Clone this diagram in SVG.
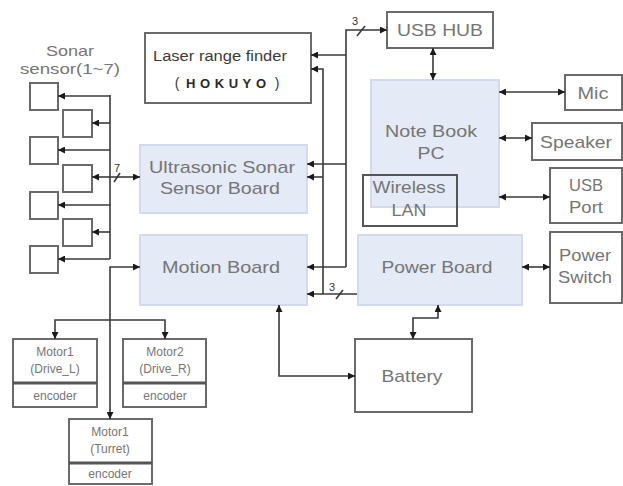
<svg xmlns="http://www.w3.org/2000/svg" width="623" height="486" viewBox="0 0 623 486">
<defs>
<style>
.box{fill:#fff;stroke:#6a6a6a;stroke-width:2}
.blue{fill:#e4eaf6;stroke:#d2dbee;stroke-width:2}
.t{font-family:"Liberation Sans",Arial,sans-serif;fill:#757575;text-anchor:middle}
.b{font-size:17px}
.s{font-size:12px}
.ln{fill:none;stroke:#3a3a3a;stroke-width:1.6}
.lbl{font-family:"Liberation Sans",Arial,sans-serif;font-size:11px;fill:#333}
</style>
<marker id="ar" viewBox="0 0 8 8" refX="8" refY="4" markerWidth="7" markerHeight="7" markerUnits="userSpaceOnUse" orient="auto-start-reverse">
<path d="M0,0 L8,4 L0,8 z" fill="#1a1a1a"/>
</marker>
</defs>
<rect width="623" height="486" fill="#fff"/>

<g id="sonar-label">
<text class="t" x="70" y="56" font-size="15" textLength="48" lengthAdjust="spacingAndGlyphs">Sonar</text>
<text class="t" x="70" y="74" font-size="15" textLength="100" lengthAdjust="spacingAndGlyphs">sensor(1~7)</text>
</g>
<g id="sonar1"><rect class="box" x="30" y="83" width="28" height="27"/></g>
<g id="sonar2"><rect class="box" x="63" y="110" width="29" height="27"/></g>
<g id="sonar3"><rect class="box" x="30" y="137" width="28" height="27"/></g>
<g id="sonar4"><rect class="box" x="63" y="165" width="29" height="27"/></g>
<g id="sonar5"><rect class="box" x="30" y="192" width="28" height="27"/></g>
<g id="sonar6"><rect class="box" x="63" y="219" width="29" height="27"/></g>
<g id="sonar7"><rect class="box" x="30" y="246" width="28" height="27"/></g>

<g id="laser">
<rect class="box" x="145" y="33" width="166" height="70"/>
<text class="t" x="220" y="61" font-size="14" textLength="134" lengthAdjust="spacingAndGlyphs" style="fill:#3a3a3a">Laser range finder</text>
<text class="t" x="177" y="88" font-size="14" style="fill:#3a3a3a">(</text>
<text class="t" x="226" y="88" font-size="13" font-weight="bold" textLength="80" lengthAdjust="spacing" style="fill:#2a2a2a">HOKUYO</text>
<text class="t" x="277" y="88" font-size="14" style="fill:#3a3a3a">)</text>
</g>

<g id="ultrasonic">
<rect class="blue" x="140" y="145" width="167" height="68"/>
<text class="t b" x="222" y="173" textLength="146" lengthAdjust="spacingAndGlyphs">Ultrasonic Sonar</text>
<text class="t b" x="220" y="194" textLength="120" lengthAdjust="spacingAndGlyphs">Sensor Board</text>
</g>

<g id="motion">
<rect class="blue" x="140" y="235" width="167" height="70"/>
<text class="t b" x="221" y="273" textLength="118" lengthAdjust="spacingAndGlyphs">Motion Board</text>
</g>

<g id="usbhub">
<rect class="box" x="387" y="12" width="106" height="36"/>
<text class="t b" x="440" y="36" textLength="86" lengthAdjust="spacingAndGlyphs">USB HUB</text>
</g>

<g id="notebook">
<rect class="blue" x="371" y="80" width="128" height="127"/>
<text class="t b" x="431" y="137" textLength="92" lengthAdjust="spacingAndGlyphs">Note Book</text>
<text class="t b" x="431" y="159" textLength="27" lengthAdjust="spacingAndGlyphs">PC</text>
</g>

<g id="wireless">
<rect x="363" y="175" width="94" height="51" fill="none" stroke="#555" stroke-width="2"/>
<text class="t b" x="409" y="193" textLength="73" lengthAdjust="spacingAndGlyphs">Wireless</text>
<text class="t b" x="409" y="216" textLength="35" lengthAdjust="spacingAndGlyphs">LAN</text>
</g>

<g id="mic">
<rect class="box" x="565" y="75" width="57" height="35"/>
<text class="t b" x="593" y="99" textLength="31" lengthAdjust="spacingAndGlyphs">Mic</text>
</g>
<g id="speaker">
<rect class="box" x="532" y="123" width="90" height="37"/>
<text class="t b" x="576" y="148" textLength="72" lengthAdjust="spacingAndGlyphs">Speaker</text>
</g>
<g id="usbport">
<rect class="box" x="550" y="168" width="72" height="55"/>
<text class="t b" x="586" y="191" textLength="34" lengthAdjust="spacingAndGlyphs">USB</text>
<text class="t b" x="586" y="213" textLength="34" lengthAdjust="spacingAndGlyphs">Port</text>
</g>
<g id="powerswitch">
<rect class="box" x="550" y="232" width="72" height="71"/>
<text class="t b" x="585" y="261" textLength="52" lengthAdjust="spacingAndGlyphs">Power</text>
<text class="t b" x="585" y="283" textLength="54" lengthAdjust="spacingAndGlyphs">Switch</text>
</g>

<g id="powerboard">
<rect class="blue" x="358" y="235" width="164" height="70"/>
<text class="t b" x="437" y="273" textLength="111" lengthAdjust="spacingAndGlyphs">Power Board</text>
</g>

<g id="battery">
<rect class="box" x="355" y="339" width="117" height="73"/>
<text class="t b" x="412" y="382" textLength="61" lengthAdjust="spacingAndGlyphs">Battery</text>
</g>

<g id="motor-l">
<rect class="box" x="13" y="339" width="84" height="68"/>
<line x1="13" y1="383" x2="97" y2="383" stroke="#555" stroke-width="3"/>
<text class="t s" x="55" y="356">Motor1</text>
<text class="t s" x="55" y="373">(Drive_L)</text>
<text class="t s" x="55" y="400">encoder</text>
</g>
<g id="motor-r">
<rect class="box" x="123" y="339" width="83" height="68"/>
<line x1="123" y1="383" x2="206" y2="383" stroke="#555" stroke-width="3"/>
<text class="t s" x="165" y="356">Motor2</text>
<text class="t s" x="165" y="373">(Drive_R)</text>
<text class="t s" x="165" y="400">encoder</text>
</g>
<g id="motor-turret">
<rect class="box" x="69" y="419" width="83" height="65"/>
<line x1="69" y1="463" x2="152" y2="463" stroke="#555" stroke-width="3"/>
<text class="t s" x="110" y="436">Motor1</text>
<text class="t s" x="110" y="453">(Turret)</text>
<text class="t s" x="110" y="478">encoder</text>
</g>

<g id="connectors">
<path class="ln" d="M110,95 V259"/>
<path class="ln" d="M110,96 H58" marker-end="url(#ar)"/>
<path class="ln" d="M110,123 H92" marker-end="url(#ar)"/>
<path class="ln" d="M110,150 H58" marker-end="url(#ar)"/>
<path class="ln" d="M110,177 H92" marker-end="url(#ar)"/>
<path class="ln" d="M110,205 H58" marker-end="url(#ar)"/>
<path class="ln" d="M110,232 H92" marker-end="url(#ar)"/>
<path class="ln" d="M110,259 H58" marker-end="url(#ar)"/>
<path class="ln" d="M110,177 H140" marker-end="url(#ar)"/>
<path class="ln" d="M114,182 L120,173"/>
<text class="lbl" x="114" y="172">7</text>

<path class="ln" d="M110,419 V267 H140" marker-start="url(#ar)" marker-end="url(#ar)"/>
<path class="ln" d="M55,339 V320 H165 V339" marker-start="url(#ar)" marker-end="url(#ar)"/>

<path class="ln" d="M346,267 V30 H387" marker-end="url(#ar)"/>
<path class="ln" d="M357,36 L365,26"/>
<text class="lbl" x="352" y="25">3</text>
<path class="ln" d="M346,55 H311" marker-end="url(#ar)"/>
<path class="ln" d="M346,164 H307" marker-end="url(#ar)"/>
<path class="ln" d="M346,267 H307" marker-end="url(#ar)"/>

<path class="ln" d="M311,69 H323 V294" marker-start="url(#ar)"/>
<path class="ln" d="M323,177 H307" marker-end="url(#ar)"/>
<path class="ln" d="M357,294 H307" marker-end="url(#ar)"/>
<path class="ln" d="M336,299 L343,290"/>
<text class="lbl" x="329" y="291">3</text>

<path class="ln" d="M279,305 V376 H355" marker-start="url(#ar)" marker-end="url(#ar)"/>
<path class="ln" d="M438,305 V318 H413 V339" marker-start="url(#ar)" marker-end="url(#ar)"/>

<path class="ln" d="M433,48 V80" marker-start="url(#ar)" marker-end="url(#ar)"/>
<path class="ln" d="M499,92 H565" marker-start="url(#ar)" marker-end="url(#ar)"/>
<path class="ln" d="M499,138 H532" marker-start="url(#ar)" marker-end="url(#ar)"/>
<path class="ln" d="M499,197 H550" marker-start="url(#ar)" marker-end="url(#ar)"/>
<path class="ln" d="M522,267 H550" marker-start="url(#ar)" marker-end="url(#ar)"/>
</g>
</svg>
